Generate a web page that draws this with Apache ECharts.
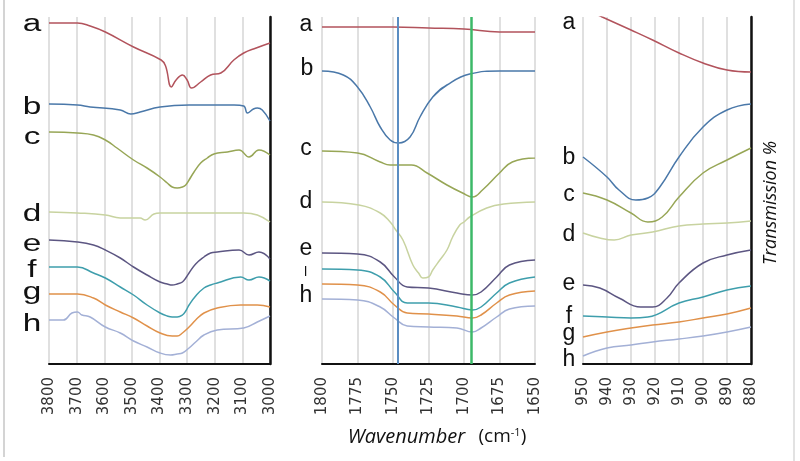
<!DOCTYPE html>
<html><head><meta charset="utf-8">
<script src="https://cdn.jsdelivr.net/npm/echarts@6/dist/echarts.min.js"></script>
<style>html,body{margin:0;padding:0;background:#fff}#c{width:800px;height:461px}</style>
</head><body><div id="c"></div>
<script>
// Panel 1: 3800-3000 cm-1 ([wavenumber, transmission (arb. units)])
const p1_a = [[3800,341],[3697,341],[3651,338],[3596,332],[3494,317],[3394,304],[3378,298],[3357,277],[3340,284],[3317,289],[3300,284],[3284,276],[3251,282],[3215,289],[3178,291],[3131,304],[3095,311],[3050,316],[3000,321]];
const p1_b = [[3800,260],[3697,259],[3651,257],[3542,254],[3504,250],[3470,252],[3398,257],[3293,259],[3130,259],[3095,258],[3082,251],[3060,255],[3046,256],[3028,254],[3000,243]];
const p1_c = [[3800,232],[3697,231],[3639,229],[3596,224],[3554,216],[3494,204],[3445,196],[3398,187],[3372,181],[3354,177],[3336,176],[3317,177],[3305,179],[3293,184],[3275,192],[3251,201],[3227,206],[3203,210],[3154,212],[3112,214],[3076,207],[3040,214],[3000,209]];
const p1_d = [[3800,152],[3697,151],[3596,149],[3542,146],[3470,146],[3452,144],[3420,150],[3398,151],[3095,151],[3046,149],[3000,142]];
const p1_e = [[3800,124],[3697,122],[3639,119],[3596,114],[3542,106],[3494,97],[3445,89],[3398,82],[3372,80],[3354,79],[3336,80],[3317,82],[3305,86],[3293,91],[3269,100],[3239,107],[3215,111],[3191,112],[3112,114],[3076,109],[3040,112],[3000,105]];
const p1_f = [[3800,97],[3697,97],[3639,91],[3596,86],[3542,77],[3494,69],[3445,59],[3398,51],[3372,48],[3354,47],[3336,47],[3317,49],[3305,53],[3293,59],[3269,68],[3239,76],[3215,79],[3191,81],[3106,87],[3076,84],[3040,87],[3000,83]];
const p1_g = [[3800,70],[3697,70],[3639,66],[3596,59],[3542,52],[3494,46],[3445,38],[3398,31],[3354,28],[3336,28],[3317,31],[3293,37],[3269,44],[3239,51],[3191,56],[3106,59],[3046,59],[3000,57]];
const p1_h = [[3800,44],[3748,44],[3717,51],[3697,52],[3681,49],[3651,47],[3596,37],[3542,31],[3494,23],[3445,17],[3398,11],[3360,9],[3336,10],[3317,11],[3293,16],[3269,22],[3239,29],[3191,34],[3095,36],[3046,42],[3000,48]];

// Panel 2: 1800-1650 cm-1
const p2_a = [[1800,337],[1750,337],[1725,336],[1700,335],[1675,332],[1650,332]];
const p2_b = [[1800,293],[1785,289],[1775,277],[1766,257],[1759,237],[1752,224],[1746,221],[1738,227],[1731,247],[1722,267],[1712,279],[1696,290],[1675,293],[1650,293]];
const p2_c = [[1800,213],[1775,211],[1759,202],[1752,199],[1737,199],[1726,191],[1712,179],[1701,171],[1694,167],[1687,174],[1675,191],[1666,202],[1650,206]];
const p2_d = [[1800,162],[1774,159],[1759,151],[1752,142],[1748,134],[1743,124],[1736,99],[1732,91],[1729,86],[1725,87],[1722,94],[1717,104],[1712,114],[1708,127],[1703,139],[1700,142],[1696,147],[1684,156],[1672,160],[1650,162]];
const p2_e = [[1800,111],[1775,110],[1759,102],[1749,87],[1740,77],[1725,76],[1705,71],[1694,69],[1688,72],[1677,87],[1668,99],[1650,104]];
const p2_f = [[1800,95],[1775,94],[1759,87],[1749,72],[1740,61],[1725,61],[1705,57],[1694,54],[1688,57],[1677,71],[1668,81],[1650,87]];
const p2_g = [[1800,80],[1775,79],[1759,72],[1749,59],[1740,51],[1725,50],[1705,48],[1694,46],[1688,49],[1677,61],[1668,69],[1650,73]];
const p2_h = [[1800,65],[1775,64],[1759,57],[1749,46],[1740,38],[1725,37],[1705,36],[1694,32],[1688,36],[1677,47],[1668,55],[1650,58]];
const p2_markers = [1747, 1695];

// Panel 3: 950-880 cm-1
const p3_a = [[950,356],[942,347],[930,334],[921,324],[910,311],[900,301],[890,294],[880,292]];
const p3_b = [[950,207],[940,187],[935,174],[928,164],[923,166],[918,177],[910,207],[900,237],[890,254],[880,260]];
const p3_c = [[950,171],[940,164],[930,151],[923,142],[917,147],[910,167],[900,191],[890,204],[880,216]];
const p3_d = [[950,131],[943,126],[937,124],[930,129],[921,132],[910,138],[900,140],[890,141],[880,143]];
const p3_e = [[950,79],[943,76],[935,66],[926,57],[921,57],[915,66],[910,81],[900,101],[890,109],[880,114]];
const p3_f = [[950,48],[940,47],[930,46],[923,47],[910,61],[900,67],[890,74],[880,78]];
const p3_g = [[950,27],[940,32],[930,36],[921,39],[910,42],[900,46],[890,50],[880,56]];
const p3_h = [[950,8],[940,16],[930,19],[921,22],[910,25],[900,28],[890,32],[880,37]];

const seriesNames = ['a','b','c','d','e','f','g','h'];
const panels = [
  [p1_a,p1_b,p1_c,p1_d,p1_e,p1_f,p1_g,p1_h],
  [p2_a,p2_b,p2_c,p2_d,p2_e,p2_f,p2_g,p2_h],
  [p3_a,p3_b,p3_c,p3_d,p3_e,p3_f,p3_g,p3_h]
];
const xRanges = [[3000,3800,100],[1650,1800,25],[880,950,10]];

const colors = ['#b2535c','#4a78a9','#97a656','#c8d3a0','#5c5682','#3e9eac','#e0914a','#a3b0d6'];

const chart = echarts.init(document.getElementById('c'), null, {renderer:'canvas'});
const grids = [
  {left:49, top:17, width:221, height:347},
  {left:322, top:17, width:213, height:347},
  {left:583, top:17, width:168, height:347}
];
const xAxes = xRanges.map((r,i)=>({
  type:'value', gridIndex:i, min:r[0], max:r[1], interval:r[2], inverse:true,
  axisLine:{show:true, onZero:false, lineStyle:{color:'#111', width:2}},
  axisTick:{show:false},
  axisLabel:{rotate:90, margin:13, fontFamily:'DejaVu Sans', fontSize:15, color:'#333', formatter:v=>String(v)},
  splitLine:{show:true, lineStyle:{color:'#d6d6d6', width:1.5}}
}));
const yAxes = [0,1,2].map(i=>({
  type:'value', gridIndex:i, min:0, max:347, position:'right',
  axisLine:{show:i!==1, lineStyle:{color:'#111', width:2.5}},
  axisTick:{show:false}, axisLabel:{show:false}, splitLine:{show:false}
}));
const series = [];
panels.forEach((arr,pi)=>{
  arr.forEach((d,si)=>{
    series.push({
      type:'line', name:seriesNames[si], xAxisIndex:pi, yAxisIndex:pi,
      data:d, showSymbol:false, smooth:0.45, clip:true,
      lineStyle:{color:colors[si], width:1.5}, silent:true
    });
  });
});
// marker lines in panel 2
series.push({
  type:'line', xAxisIndex:1, yAxisIndex:1, data:[], silent:true,
  markLine:{symbol:'none', silent:true, label:{show:false},
    data:[
      {xAxis:p2_markers[0], lineStyle:{color:'#5a8dc2', width:2, type:'solid'}},
      {xAxis:p2_markers[1], lineStyle:{color:'#3cb968', width:2.5, type:'solid'}}
    ]}
});

const lblFont = '"Liberation Sans", Arial, sans-serif';
function lbl(text, x, y, sx){
  return {type:'text', x:x, y:y, scaleX:sx||1, style:{text:text, fill:'#111', font:'23px '+lblFont, textAlign:'center', textVerticalAlign:'middle'}};
}
const graphic = [
  {type:'line', shape:{x1:4,y1:0,x2:4,y2:457}, style:{stroke:'#d4d4d4', lineWidth:2}},
  {type:'line', shape:{x1:794,y1:0,x2:794,y2:461}, style:{stroke:'#e2e2e2', lineWidth:2}},
  // panel 1 labels
  lbl('a',32,25,1.45), lbl('b',32,108,1.45), lbl('c',32,138,1.45), lbl('d',32,215,1.45),
  lbl('e',32,245,1.45), lbl('f',32,271,1.45), lbl('g',32,293,1.45), lbl('h',32,325,1.45),
  // panel 2 labels
  lbl('a',306,25), lbl('b',307,69), lbl('c',306,149), lbl('d',306,202),
  lbl('e',306,249), {type:'text', x:305, y:271, rotation:Math.PI/2, style:{text:'–', fill:'#111', font:'18px '+lblFont, textAlign:'center', textVerticalAlign:'middle'}},
  lbl('h',306,296),
  // panel 3 labels
  lbl('a',569,23), lbl('b',569,158), lbl('c',569,195), lbl('d',569,235),
  lbl('e',569,284), lbl('f',569,317), lbl('g',569,334), lbl('h',569,360),
  // axis titles
  {type:'text', x:437, y:437, style:{text:'{i|Wavenumber}    {n|(cm}{s|-1}{n|)}', textAlign:'center', textVerticalAlign:'middle',
    rich:{i:{font:'italic 20px "Open Sans", sans-serif', fill:'#111'}, n:{font:'19px "Open Sans", sans-serif', fill:'#111'}, s:{font:'11px "Open Sans", sans-serif', fill:'#111', verticalAlign:'top', padding:[0,0,8,0]}}}},
  {type:'text', x:771, y:203, rotation:Math.PI/2, style:{text:'Transmission %', font:'italic 18px "Open Sans", sans-serif', fill:'#111', textAlign:'center', textVerticalAlign:'middle'}}
];

chart.setOption({
  animation:false, backgroundColor:'#fff',
  grid:grids, xAxis:xAxes, yAxis:yAxes, series:series, graphic:graphic
});
</script></body></html>
